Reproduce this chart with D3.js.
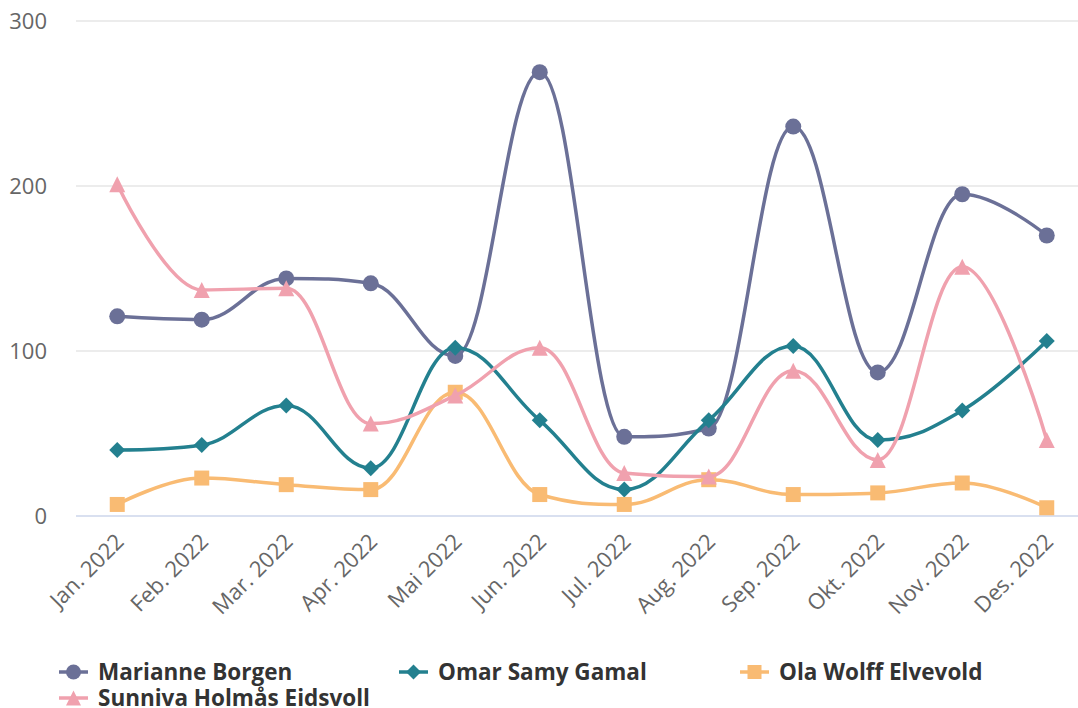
<!DOCTYPE html>
<html>
<head>
<meta charset="utf-8">
<script src="https://cdn.jsdelivr.net/npm/d3@7"></script>
<style>
  html, body { margin: 0; padding: 0; background: #ffffff; }
  svg { display: block; font-family: "Open Sans", "DejaVu Sans", sans-serif; }
</style>
</head>
<body>
<svg id="chart" width="1078" height="708"></svg>
<script>
const categories = ["Jan. 2022", "Feb. 2022", "Mar. 2022", "Apr. 2022", "Mai 2022", "Jun. 2022",
                    "Jul. 2022", "Aug. 2022", "Sep. 2022", "Okt. 2022", "Nov. 2022", "Des. 2022"];
const seriesNames = ["Marianne Borgen", "Omar Samy Gamal", "Ola Wolff Elvevold", "Sunniva Holmås Eidsvoll"];
const marianne = [121, 119, 144, 141, 97, 269, 48, 53, 236, 87, 195, 170];
const omar     = [40, 43, 67, 29, 102, 58, 16, 58, 103, 46, 64, 106];
const ola      = [7, 23, 19, 16, 75, 13, 7, 22, 13, 14, 20, 5];
const sunniva  = [201, 137, 138, 56, 73, 102, 26, 24, 88, 34, 151, 46];
const yTicks   = [0, 100, 200, 300];
const colors   = ["#6b7097", "#23808f", "#f9bb73", "#f0a1ae"];
const symbols  = ["circle", "diamond", "square", "triangle"];

const seriesValues = [marianne, omar, ola, sunniva];

const svg = d3.select("#chart");
const plotLeft = 75, plotRight = 1089, plotTop = 21, plotBottom = 516;

const x = d3.scaleBand().domain(categories).range([plotLeft, plotRight]).padding(0);
const y = d3.scaleLinear().domain([0, 300]).range([plotBottom, plotTop]);

// grid lines
svg.append("g").selectAll("line").data(yTicks.filter(t => t !== 0)).join("line")
  .attr("x1", 76).attr("x2", 1078)
  .attr("y1", d => y(d)).attr("y2", d => y(d))
  .attr("stroke", "#e6e6e6").attr("stroke-width", 1.5);

// y axis labels
svg.append("g").selectAll("text").data(yTicks).join("text")
  .attr("x", 47).attr("y", d => y(d))
  .attr("dy", "0.35em")
  .attr("text-anchor", "end")
  .attr("font-size", 22)
  .attr("fill", "#666666")
  .text(d => d);

// x axis line
svg.append("line")
  .attr("x1", 76).attr("x2", 1078)
  .attr("y1", y(0)).attr("y2", y(0))
  .attr("stroke", "#ccd6eb").attr("stroke-width", 1.5);

// x axis labels
svg.append("g").selectAll("text").data(categories).join("text")
  .attr("text-anchor", "end")
  .attr("font-size", 22)
  .attr("fill", "#666666")
  .attr("transform", d => `translate(${x(d) + x.bandwidth() / 2 + 8},${y(0) + 27}) rotate(-45)`)
  .text(d => d);

// Highcharts-like spline path
function splinePath(pts) {
  const smoothing = 1.5, denom = smoothing + 1;
  const p = d3.path();
  const rc = pts.map(() => null);
  pts.forEach((pt, i) => {
    if (i === 0) { p.moveTo(pt[0], pt[1]); return; }
    const last = pts[i - 1], next = pts[i + 1];
    let lcx = pt[0], lcy = pt[1];
    if (next) {
      const [px, py] = pt;
      let leftContX = (smoothing * px + last[0]) / denom;
      let leftContY = (smoothing * py + last[1]) / denom;
      let rightContX = (smoothing * px + next[0]) / denom;
      let rightContY = (smoothing * py + next[1]) / denom;
      let correction = 0;
      if (rightContX !== leftContX) {
        correction = ((rightContY - leftContY) * (rightContX - px)) / (rightContX - leftContX) + py - rightContY;
      }
      leftContY += correction; rightContY += correction;
      if (leftContY > last[1] && leftContY > py) {
        leftContY = Math.max(last[1], py); rightContY = 2 * py - leftContY;
      } else if (leftContY < last[1] && leftContY < py) {
        leftContY = Math.min(last[1], py); rightContY = 2 * py - leftContY;
      }
      if (rightContY > next[1] && rightContY > py) {
        rightContY = Math.max(next[1], py); leftContY = 2 * py - rightContY;
      } else if (rightContY < next[1] && rightContY < py) {
        rightContY = Math.min(next[1], py); leftContY = 2 * py - rightContY;
      }
      lcx = leftContX; lcy = leftContY;
      rc[i] = [rightContX, rightContY];
    }
    const lrc = rc[i - 1] || last;
    p.bezierCurveTo(lrc[0], lrc[1], lcx, lcy, pt[0], pt[1]);
  });
  return p.toString();
}

function symbolPath(type, cx, cy, r) {
  const p = d3.path();
  if (type === "circle") {
    p.moveTo(cx + r, cy); p.arc(cx, cy, r, 0, 2 * Math.PI); p.closePath();
  } else if (type === "diamond") {
    p.moveTo(cx, cy - r); p.lineTo(cx + r, cy); p.lineTo(cx, cy + r); p.lineTo(cx - r, cy); p.closePath();
  } else if (type === "square") {
    p.rect(cx - r, cy - r, 2 * r, 2 * r);
  } else if (type === "triangle") {
    p.moveTo(cx, cy - r); p.lineTo(cx + r, cy + r); p.lineTo(cx - r, cy + r); p.closePath();
  }
  return p.toString();
}

const cx = c => x(c) + x.bandwidth() / 2;

seriesValues.forEach((vals, si) => {
  const g = svg.append("g");
  const pts = vals.map((v, i) => [cx(categories[i]), y(v)]);
  g.append("path")
    .attr("d", splinePath(pts))
    .attr("fill", "none")
    .attr("stroke", colors[si])
    .attr("stroke-width", 3.5)
    .attr("stroke-linejoin", "round")
    .attr("stroke-linecap", "round");
  g.selectAll("path.m").data(vals).join("path")
    .attr("class", "m")
    .attr("d", (v, i) => symbolPath(symbols[si], cx(categories[i]), y(v), symbols[si] === "square" ? 7.5 : 8))
    .attr("fill", colors[si]);
});

// legend
const legendPos = [[59, 672], [399, 672], [740, 672], [59, 698]];
seriesNames.forEach((name, si) => {
  const [lx, ly] = legendPos[si];
  const g = svg.append("g");
  g.append("line")
    .attr("x1", lx).attr("x2", lx + 29)
    .attr("y1", ly).attr("y2", ly)
    .attr("stroke", colors[si]).attr("stroke-width", 3.5);
  g.append("path")
    .attr("d", symbolPath(symbols[si], lx + 14.5, ly, symbols[si] === "square" ? 7 : 7.5))
    .attr("fill", colors[si]);
  g.append("text")
    .attr("x", lx + 39).attr("y", ly)
    .attr("dy", "0.35em")
    .attr("font-size", 22.5)
    .attr("font-weight", "bold")
    .attr("fill", "#333333")
    .text(name);
});
</script>
</body>
</html>
